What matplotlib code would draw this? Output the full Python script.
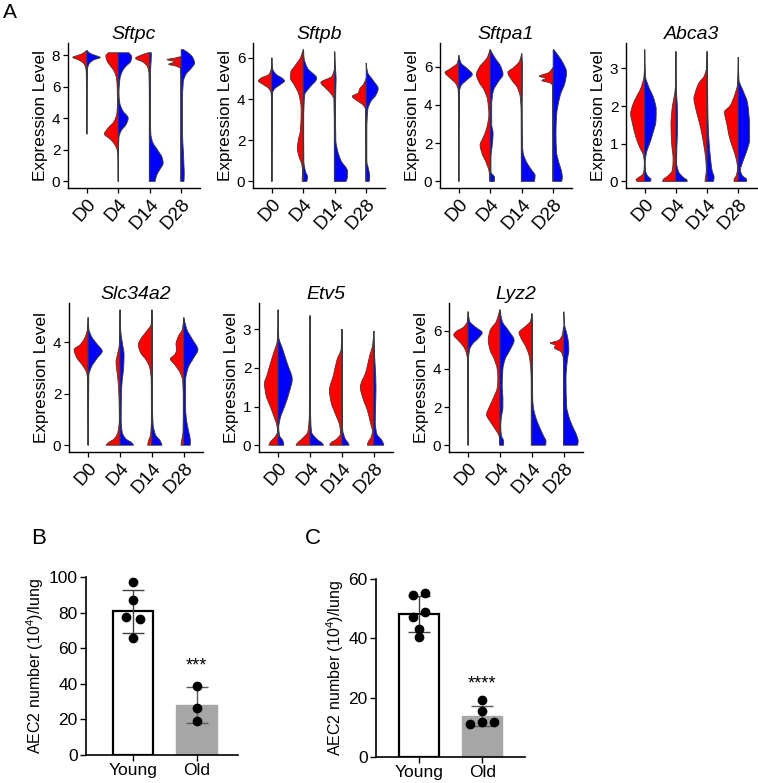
import matplotlib
matplotlib.use('Agg')
import matplotlib.pyplot as plt
from matplotlib.path import Path
from matplotlib.patches import PathPatch
from matplotlib.transforms import ScaledTranslation
import numpy as np

plt.rcParams['font.family'] = ['Liberation Sans', 'DejaVu Sans']
plt.rcParams['mathtext.default'] = 'regular'

# ---------------- data ----------------
days = ['D0', 'D4', 'D14', 'D28']
genes = ['Sftpc', 'Sftpb', 'Sftpa1', 'Abca3', 'Slc34a2', 'Etv5', 'Lyz2']
gene_ticks = {
    'Sftpc': [0, 2, 4, 6, 8], 'Sftpb': [0, 2, 4, 6], 'Sftpa1': [0, 2, 4, 6],
    'Abca3': [0, 1, 2, 3], 'Slc34a2': [0, 2, 4], 'Etv5': [0, 1, 2, 3],
    'Lyz2': [0, 2, 4, 6],
}

# half-violin density profiles: (expression level, relative half-width)
sftpc_red = {
    'D0': [(8.3, 0), (8.1, 0.3), (7.95, 0.75), (7.87, 1.0), (7.7, 0.6), (7.5, 0.25), (7.2, 0.08), (6.8, 0.04), (5.0, 0.02), (3.0, 0.01)],
    'D4': [(8.15, 0.7), (7.95, 0.88), (7.65, 0.8), (7.3, 0.55), (7.0, 0.3), (6.5, 0.12), (6.0, 0.08), (5.0, 0.06), (4.3, 0.1), (3.8, 0.3), (3.35, 0.75), (3.0, 0.98), (2.7, 0.6), (2.4, 0.3), (2.0, 0.08), (1.6, 0.03), (0, 0.02)],
    'D14': [(8.15, 0.1), (8.0, 0.6), (7.8, 1.0), (7.55, 0.45), (7.25, 0.15), (6.8, 0.05), (5.0, 0.03), (0, 0.03)],
    'D28': [(7.9, 0.05), (7.8, 0.5), (7.72, 1.0), (7.58, 0.45), (7.42, 0.88), (7.3, 0.35), (7.15, 0.06), (6.5, 0.02), (0, 0.02)],
}
sftpc_blue = {
    'D0': [(8.3, 0), (8.1, 0.25), (7.95, 0.7), (7.85, 0.95), (7.7, 0.5), (7.5, 0.2), (7.2, 0.06), (6.9, 0.03), (5.0, 0.02), (3.0, 0.01)],
    'D4': [(8.15, 0.75), (7.9, 0.95), (7.6, 0.88), (7.3, 0.55), (7.0, 0.3), (6.5, 0.12), (5.6, 0.05), (5.0, 0.1), (4.5, 0.3), (4.0, 0.7), (3.6, 0.55), (3.2, 0.2), (2.8, 0.05), (2.0, 0.02), (0, 0.01)],
    'D14': [(8.15, 0.12), (7.6, 0.1), (7.0, 0.06), (4.0, 0.05), (3.0, 0.08), (2.5, 0.2), (2.0, 0.55), (1.5, 0.88), (1.15, 0.95), (0.8, 0.75), (0.4, 0.5), (0, 0.38)],
    'D28': [(8.35, 0.15), (8.15, 0.5), (7.85, 0.82), (7.5, 0.95), (7.15, 0.7), (6.8, 0.35), (6.3, 0.15), (5.0, 0.1), (3.0, 0.1), (2.0, 0.15), (1.0, 0.2), (0.5, 0.22), (0, 0.2)],
}
sftpb_red = {
    'D0': [(6.0, 0), (5.5, 0.04), (5.2, 0.2), (5.0, 0.8), (4.88, 0.95), (4.7, 0.6), (4.5, 0.2), (4.3, 0.06), (4.0, 0.03), (0, 0.02)],
    'D4': [(6.4, 0), (6.0, 0.2), (5.6, 0.6), (5.3, 0.88), (5.0, 0.9), (4.7, 0.65), (4.2, 0.3), (3.5, 0.15), (2.5, 0.2), (2.0, 0.35), (1.6, 0.42), (1.2, 0.3), (0.8, 0.1), (0.4, 0.05), (0.1, 0.08), (0, 0.08)],
    'D14': [(6.3, 0), (5.5, 0.02), (5.1, 0.2), (4.8, 0.98), (4.5, 0.6), (4.2, 0.2), (4.0, 0.06), (2.0, 0.03), (0, 0.03)],
    'D28': [(5.0, 0), (4.7, 0.2), (4.5, 0.45), (4.3, 0.55), (4.13, 0.98), (3.9, 0.6), (3.7, 0.2), (3.5, 0.05), (0, 0.02)],
}
sftpb_blue = {
    'D0': [(6.0, 0), (5.5, 0.04), (5.2, 0.3), (5.0, 0.75), (4.88, 0.9), (4.7, 0.6), (4.5, 0.2), (4.3, 0.05), (0, 0.02)],
    'D4': [(6.4, 0.02), (6.0, 0.05), (5.5, 0.3), (5.0, 0.95), (4.6, 0.5), (4.2, 0.1), (3.0, 0.03), (1.0, 0.04), (0.5, 0.15), (0.2, 0.3), (0, 0.25)],
    'D14': [(6.3, 0), (5.5, 0.05), (5.0, 0.1), (4.5, 0.08), (3.5, 0.06), (2.0, 0.08), (1.5, 0.2), (1.0, 0.45), (0.5, 0.9), (0.2, 0.9), (0, 0.8)],
    'D28': [(5.75, 0), (5.3, 0.1), (4.9, 0.5), (4.5, 0.85), (4.2, 0.7), (3.9, 0.35), (3.5, 0.12), (2.5, 0.05), (1.0, 0.05), (0.5, 0.2), (0.2, 0.25), (0, 0.22)],
}
sftpa1_red = {
    'D0': [(6.6, 0), (6.2, 0.1), (5.9, 0.6), (5.7, 0.98), (5.4, 0.6), (5.1, 0.2), (4.8, 0.05), (4.0, 0.02), (0, 0.01)],
    'D4': [(6.9, 0.02), (6.5, 0.2), (6.0, 0.75), (5.6, 0.98), (5.2, 0.8), (4.8, 0.45), (4.3, 0.2), (3.5, 0.1), (2.8, 0.25), (2.3, 0.5), (1.9, 0.72), (1.5, 0.6), (1.0, 0.3), (0.5, 0.08), (0.2, 0.05), (0, 0.04)],
    'D14': [(6.7, 0), (6.3, 0.15), (6.0, 0.5), (5.7, 0.98), (5.3, 0.7), (4.9, 0.3), (4.4, 0.1), (3.5, 0.04), (0, 0.03)],
    'D28': [(5.95, 0.02), (5.7, 0.3), (5.5, 0.98), (5.4, 0.5), (5.28, 0.8), (5.15, 0.2), (5.0, 0.03), (0, 0.02)],
}
sftpa1_blue = {
    'D0': [(6.6, 0), (6.2, 0.15), (5.9, 0.6), (5.6, 0.95), (5.3, 0.55), (5.0, 0.15), (4.7, 0.04), (0, 0.01)],
    'D4': [(6.9, 0), (6.5, 0.3), (6.0, 0.75), (5.6, 0.9), (5.2, 0.55), (4.7, 0.2), (4.0, 0.1), (3.0, 0.1), (2.5, 0.2), (2.0, 0.15), (1.2, 0.05), (0.5, 0.05), (0.2, 0.3), (0, 0.3)],
    'D14': [(6.7, 0), (6.0, 0.05), (4.0, 0.03), (2.0, 0.05), (1.5, 0.1), (1.0, 0.35), (0.6, 0.7), (0.3, 0.95), (0, 0.9)],
    'D28': [(6.9, 0.05), (6.6, 0.35), (6.2, 0.7), (5.7, 0.95), (5.2, 0.85), (4.5, 0.5), (3.5, 0.25), (2.5, 0.2), (1.5, 0.25), (1.0, 0.4), (0.5, 0.6), (0.2, 0.65), (0, 0.6)],
}
abca3_red = {
    'D0': [(3.5, 0), (3.0, 0.02), (2.8, 0.05), (2.5, 0.25), (2.2, 0.65), (2.0, 0.88), (1.8, 1.0), (1.5, 0.85), (1.2, 0.65), (0.9, 0.35), (0.7, 0.1), (0.5, 0.03), (0.3, 0.05), (0.18, 0.15), (0.1, 0.45), (0.04, 0.62), (0, 0.55)],
    'D4': [(3.45, 0), (2.6, 0.02), (2.3, 0.1), (2.0, 0.25), (1.5, 0.35), (1.0, 0.3), (0.6, 0.2), (0.3, 0.25), (0.15, 0.55), (0.05, 0.9), (0, 0.95)],
    'D14': [(3.45, 0), (3.0, 0.05), (2.8, 0.2), (2.6, 0.6), (2.35, 0.85), (2.2, 0.94), (2.0, 0.85), (1.7, 0.65), (1.4, 0.45), (1.0, 0.25), (0.6, 0.1), (0.3, 0.05), (0.1, 0.12), (0, 0.15)],
    'D28': [(3.3, 0), (2.6, 0.05), (2.3, 0.25), (2.0, 0.6), (1.85, 0.98), (1.5, 0.8), (1.2, 0.65), (0.9, 0.4), (0.6, 0.15), (0.35, 0.05), (0.15, 0.15), (0.05, 0.3), (0, 0.3)],
}
abca3_blue = {
    'D0': [(3.5, 0), (2.8, 0.05), (2.5, 0.3), (2.2, 0.65), (1.9, 0.82), (1.6, 0.8), (1.3, 0.6), (1.0, 0.35), (0.8, 0.15), (0.5, 0.03), (0.3, 0.05), (0.15, 0.2), (0.05, 0.45), (0, 0.4)],
    'D4': [(3.45, 0), (2.5, 0.02), (2.0, 0.1), (1.5, 0.12), (1.0, 0.08), (0.5, 0.05), (0.25, 0.2), (0.1, 0.55), (0.03, 0.8), (0, 0.8)],
    'D14': [(3.45, 0), (2.8, 0.03), (2.0, 0.05), (1.5, 0.08), (1.0, 0.15), (0.6, 0.25), (0.3, 0.35), (0.1, 0.5), (0, 0.45)],
    'D28': [(3.3, 0), (2.7, 0.05), (2.4, 0.35), (2.1, 0.65), (1.8, 0.75), (1.5, 0.8), (1.1, 0.8), (0.8, 0.6), (0.5, 0.3), (0.3, 0.15), (0.15, 0.3), (0.05, 0.6), (0, 0.6)],
}
slc34a2_red = {
    'D0': [(4.95, 0), (4.5, 0.05), (4.2, 0.2), (3.9, 0.55), (3.7, 0.98), (3.4, 0.8), (3.1, 0.4), (2.8, 0.1), (2.5, 0.04), (0, 0.02)],
    'D4': [(5.25, 0), (4.5, 0.02), (3.9, 0.05), (3.6, 0.15), (3.2, 0.28), (2.8, 0.2), (2.2, 0.1), (1.5, 0.06), (1.0, 0.05), (0.5, 0.15), (0.25, 0.4), (0.1, 0.8), (0, 0.98)],
    'D14': [(5.25, 0), (4.7, 0.05), (4.4, 0.4), (4.1, 0.8), (3.9, 0.95), (3.6, 0.8), (3.3, 0.4), (3.0, 0.15), (2.5, 0.05), (1.0, 0.04), (0.4, 0.1), (0.15, 0.25), (0, 0.3)],
    'D28': [(4.95, 0), (4.5, 0.1), (4.2, 0.4), (3.9, 0.55), (3.7, 0.5), (3.5, 0.65), (3.35, 0.94), (3.1, 0.6), (2.8, 0.25), (2.5, 0.08), (1.5, 0.04), (0.5, 0.06), (0.2, 0.15), (0, 0.2)],
}
slc34a2_blue = {
    'D0': [(4.95, 0), (4.5, 0.05), (4.2, 0.25), (3.9, 0.65), (3.65, 0.98), (3.35, 0.6), (3.0, 0.2), (2.7, 0.05), (0, 0.02)],
    'D4': [(5.25, 0), (4.5, 0.04), (4.0, 0.15), (3.5, 0.28), (3.0, 0.25), (2.5, 0.15), (2.0, 0.1), (1.0, 0.08), (0.5, 0.15), (0.25, 0.4), (0.1, 0.8), (0, 0.95)],
    'D14': [(5.25, 0), (4.5, 0.03), (3.5, 0.03), (1.5, 0.04), (0.8, 0.08), (0.4, 0.25), (0.15, 0.6), (0, 0.7)],
    'D28': [(4.95, 0), (4.5, 0.2), (4.1, 0.6), (3.7, 0.98), (3.4, 0.7), (3.0, 0.3), (2.5, 0.12), (1.5, 0.12), (1.0, 0.18), (0.5, 0.35), (0.2, 0.45), (0, 0.45)],
}
etv5_red = {
    'D0': [(3.5, 0), (3.0, 0.02), (2.7, 0.06), (2.4, 0.3), (2.1, 0.55), (1.8, 0.78), (1.6, 0.95), (1.3, 0.85), (1.0, 0.55), (0.7, 0.25), (0.5, 0.08), (0.35, 0.04), (0.2, 0.25), (0.08, 0.55), (0, 0.65)],
    'D4': [(3.35, 0), (2.5, 0.02), (1.5, 0.04), (0.8, 0.05), (0.35, 0.15), (0.15, 0.6), (0.05, 0.9), (0, 0.98)],
    'D14': [(3.0, 0), (2.5, 0.05), (2.2, 0.35), (1.8, 0.6), (1.42, 0.87), (1.1, 0.75), (0.8, 0.45), (0.5, 0.15), (0.3, 0.1), (0.15, 0.4), (0.05, 0.8), (0, 0.85)],
    'D28': [(2.95, 0), (2.6, 0.08), (2.3, 0.3), (1.9, 0.55), (1.5, 0.94), (1.2, 0.75), (0.9, 0.45), (0.6, 0.25), (0.35, 0.1), (0.2, 0.2), (0.08, 0.4), (0, 0.45)],
}
etv5_blue = {
    'D0': [(3.5, 0), (2.8, 0.04), (2.5, 0.3), (2.1, 0.65), (1.7, 0.98), (1.4, 0.8), (1.0, 0.45), (0.7, 0.15), (0.45, 0.04), (0.25, 0.1), (0.1, 0.35), (0, 0.4)],
    'D4': [(3.35, 0), (2.0, 0.03), (1.0, 0.03), (0.35, 0.1), (0.15, 0.5), (0.05, 0.85), (0, 0.95)],
    'D14': [(3.0, 0), (2.5, 0.02), (1.0, 0.02), (0.4, 0.05), (0.15, 0.25), (0.05, 0.45), (0, 0.5)],
    'D28': [(2.95, 0), (2.5, 0.03), (2.0, 0.1), (1.5, 0.15), (1.0, 0.12), (0.6, 0.1), (0.3, 0.2), (0.1, 0.6), (0, 0.7)],
}
lyz2_red = {
    'D0': [(7.0, 0), (6.5, 0.05), (6.2, 0.3), (5.95, 0.85), (5.78, 1.0), (5.5, 0.7), (5.2, 0.35), (4.9, 0.15), (4.5, 0.05), (0, 0.02)],
    'D4': [(7.1, 0.02), (6.5, 0.25), (6.0, 0.7), (5.5, 0.82), (5.0, 0.7), (4.5, 0.4), (4.0, 0.2), (3.5, 0.15), (3.0, 0.2), (2.5, 0.45), (2.0, 0.75), (1.6, 0.94), (1.2, 0.65), (0.8, 0.3), (0.5, 0.08), (0.3, 0.03), (0, 0.02)],
    'D14': [(6.9, 0), (6.5, 0.1), (6.2, 0.5), (5.9, 0.9), (5.6, 0.75), (5.2, 0.45), (4.7, 0.2), (4.0, 0.08), (3.0, 0.05), (0, 0.05)],
    'D28': [(6.2, 0.03), (5.8, 0.1), (5.5, 0.35), (5.35, 0.95), (5.25, 0.6), (5.1, 0.65), (4.9, 0.2), (4.6, 0.05), (4.0, 0.02), (0, 0.02)],
}
lyz2_blue = {
    'D0': [(7.0, 0), (6.5, 0.1), (6.2, 0.5), (5.9, 0.98), (5.6, 0.7), (5.3, 0.3), (5.0, 0.1), (4.5, 0.03), (0, 0.02)],
    'D4': [(7.1, 0), (6.5, 0.15), (6.0, 0.6), (5.5, 0.98), (5.0, 0.7), (4.5, 0.35), (4.0, 0.2), (3.0, 0.15), (2.5, 0.2), (2.0, 0.2), (1.5, 0.1), (1.0, 0.05), (0.5, 0.1), (0.2, 0.25), (0, 0.25)],
    'D14': [(6.9, 0), (6.0, 0.03), (4.0, 0.03), (2.5, 0.05), (2.0, 0.1), (1.5, 0.25), (1.0, 0.5), (0.5, 0.8), (0.2, 0.98), (0, 0.95)],
    'D28': [(7.0, 0), (6.3, 0.05), (6.0, 0.15), (5.5, 0.3), (5.0, 0.35), (4.5, 0.25), (3.5, 0.15), (2.0, 0.2), (1.5, 0.35), (1.0, 0.6), (0.5, 0.9), (0.2, 1.0), (0, 0.95)],
}
profiles = {
    'Sftpc': (sftpc_red, sftpc_blue), 'Sftpb': (sftpb_red, sftpb_blue),
    'Sftpa1': (sftpa1_red, sftpa1_blue), 'Abca3': (abca3_red, abca3_blue),
    'Slc34a2': (slc34a2_red, slc34a2_blue), 'Etv5': (etv5_red, etv5_blue),
    'Lyz2': (lyz2_red, lyz2_blue),
}

# Panel B / C: AEC2 counts
bar_groups = ['Young', 'Old']
young_B = [97.4, 87.0, 77.5, 76.6, 65.5]
young_B_dx = [0.0, 0.0, -0.115, 0.105, 0.0]
old_B = [39.0, 26.3, 19.1]
old_B_dx = [0.0, 0.0, 0.0]
young_C = [54.5, 55.3, 48.9, 47.1, 43.3, 40.3]
young_C_dx = [-0.095, 0.095, 0.095, -0.095, 0.0, 0.0]
old_C = [19.2, 15.5, 11.2, 11.7, 11.7]
old_C_dx = [0.0, 0.0, -0.19, 0.0, 0.19]
sig_B = '***'
sig_C = '****'

# ---------------- drawing helpers ----------------
W = 0.45
RED = '#FF0000'
BLUE = '#0000FF'
EDGE = '#3a3a3a'


def pchip_slopes(y, w):
    n = len(y)
    h = np.diff(y)
    d = np.diff(w) / h
    m = np.zeros(n)
    m[0] = d[0]
    m[-1] = d[-1]
    for k in range(1, n - 1):
        if d[k - 1] * d[k] <= 0:
            m[k] = 0.0
        else:
            w1 = 2 * h[k] + h[k - 1]
            w2 = h[k] + 2 * h[k - 1]
            m[k] = (w1 + w2) / (w1 / d[k - 1] + w2 / d[k])
    return m


def half_violin(ax, cx, prof, side, color):
    pr = sorted(prof, key=lambda p: p[0])
    y = np.array([p[0] for p in pr], float)
    w = np.array([p[1] for p in pr], float) * W
    m = pchip_slopes(y, w)
    verts = [(cx, y[0]), (cx + side * w[0], y[0])]
    codes = [Path.MOVETO, Path.LINETO]
    for k in range(len(y) - 1):
        h = y[k + 1] - y[k]
        c1 = (cx + side * (w[k] + m[k] * h / 3), y[k] + h / 3)
        c2 = (cx + side * (w[k + 1] - m[k + 1] * h / 3), y[k + 1] - h / 3)
        verts += [c1, c2, (cx + side * w[k + 1], y[k + 1])]
        codes += [Path.CURVE4] * 3
    verts += [(cx, y[-1]), (cx, y[0])]
    codes += [Path.LINETO, Path.CLOSEPOLY]
    ax.add_patch(PathPatch(Path(verts, codes), facecolor=color, edgecolor=EDGE, lw=0.6))


fig = plt.figure(figsize=(7.58, 7.83), dpi=100)
FW, FH = 758.0, 783.0


def add_ax(l, r, t, b):
    return fig.add_axes([l / FW, 1 - b / FH, (r - l) / FW, (b - t) / FH])


violin_boxes = {
    'Sftpc': (68, 200, 43, 188), 'Sftpb': (253, 385, 43, 188),
    'Sftpa1': (440, 572, 43, 188), 'Abca3': (626, 757, 43, 188),
    'Slc34a2': (69, 203, 303, 452), 'Etv5': (259, 393, 303, 452),
    'Lyz2': (449, 583, 303, 452),
}

shift = ScaledTranslation(6 / 100.0, 0, fig.dpi_scale_trans)

for g in genes:
    ax = add_ax(*violin_boxes[g])
    red, blue = profiles[g]
    top = 0
    for i, dname in enumerate(days):
        cx = i + 1
        half_violin(ax, cx, red[dname], -1, RED)
        half_violin(ax, cx, blue[dname], 1, BLUE)
        top = max(top, max(p[0] for p in red[dname]), max(p[0] for p in blue[dname]))
    ax.set_xlim(0.4, 4.6)
    ax.set_ylim(-0.05 * top, top * 1.05)
    ax.set_xticks(range(1, 5))
    ax.set_xticklabels(days, rotation=48, ha='right', va='top', rotation_mode='anchor')
    for lbl in ax.get_xticklabels():
        lbl.set_transform(lbl.get_transform() + shift)
    ax.set_yticks(gene_ticks[g])
    ax.tick_params(axis='y', labelsize=11, length=3.5, width=0.9, color='black', pad=2)
    ax.tick_params(axis='x', labelsize=13.5, length=3.5, width=0.9, color='black', pad=2)
    for s in ['top', 'right']:
        ax.spines[s].set_visible(False)
    for s in ['left', 'bottom']:
        ax.spines[s].set_linewidth(1.0)
    ax.set_ylabel('Expression Level', fontsize=12.3, labelpad=3)
    ax.set_title(g, style='italic', fontsize=14, pad=3)


def bar_panel(box, young, young_dx, old, old_dx, yticks, ymax, sig, sig_y, xlim):
    ax = add_ax(*box)
    means = [np.mean(young), np.mean(old)]
    sds = [np.std(young, ddof=1), np.std(old, ddof=1)]
    ax.bar(0, means[0], width=0.64, color='white', edgecolor='black', lw=1.6, zorder=2)
    ax.bar(1, means[1], width=0.64, color='#A6A6A6', edgecolor='#A6A6A6', lw=1.0, zorder=2)
    ax.errorbar([0], [means[0]], yerr=[sds[0]], fmt='none', ecolor='#404040', elinewidth=1.0,
                capsize=8, capthick=1.0, zorder=3)
    ax.errorbar([1], [means[1]], yerr=[sds[1]], fmt='none', ecolor='#5a5a5a', elinewidth=1.0,
                capsize=8, capthick=1.0, zorder=3)
    ax.scatter(np.array(young_dx) + 0, young, s=36, color='black', zorder=4, clip_on=False)
    ax.scatter(np.array(old_dx) + 1, old, s=36, color='black', zorder=4, clip_on=False)
    ax.text(1, sig_y, sig, ha='center', va='center', fontsize=13)
    ax.set_xlim(*xlim)
    ax.set_ylim(0, ymax)
    ax.set_yticks(yticks)
    ax.set_xticks([0, 1])
    ax.set_xticklabels(bar_groups)
    ax.tick_params(axis='both', labelsize=12.5, length=4, width=1.0, pad=2)
    for s in ['top', 'right']:
        ax.spines[s].set_visible(False)
    for s in ['left', 'bottom']:
        ax.spines[s].set_linewidth(1.2)
    ax.set_ylabel('AEC2 number (10$^4$)/lung', fontsize=11.5, labelpad=2)
    return ax


bar_panel((86, 238, 577, 755), young_B, young_B_dx, old_B, old_B_dx,
          [0, 20, 40, 60, 80, 100], 100, sig_B, 50, (-0.74, 1.65))
bar_panel((376, 525, 579, 757), young_C, young_C_dx, old_C, old_C_dx,
          [0, 20, 40, 60], 60, sig_C, 24.5, (-0.69, 1.68))

fig.text(3 / FW, 1 - 3 / FH, 'A', fontsize=15, va='top', ha='left')
fig.text(31 / FW, 1 - 528 / FH, 'B', fontsize=16, va='top', ha='left')
fig.text(305 / FW, 1 - 528 / FH, 'C', fontsize=16, va='top', ha='left')

fig.savefig('out.png', dpi=100)
